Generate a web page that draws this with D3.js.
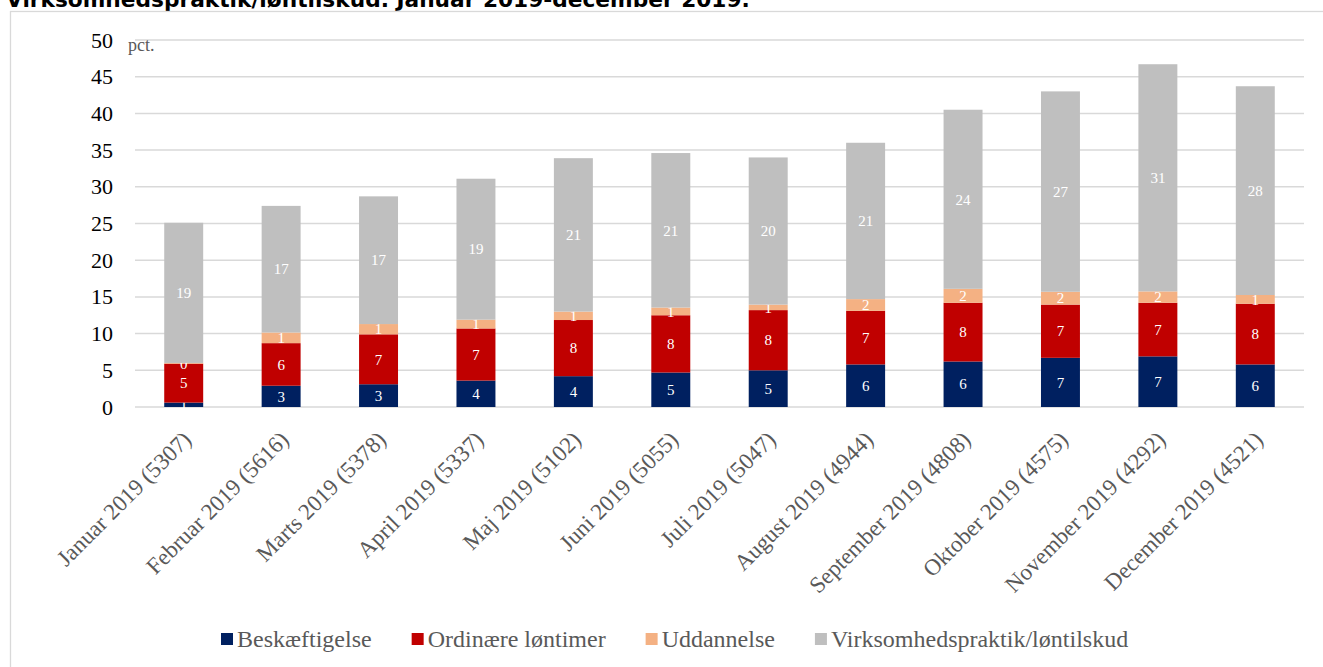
<!DOCTYPE html>
<html>
<head>
<meta charset="utf-8">
<script src="https://d3js.org/d3.v7.min.js"></script>
<style>
  body { margin: 0; background: #fff; }
  svg { display: block; }
</style>
</head>
<body>
<div id="chart-area"></div>
<script>
var months = ["Januar 2019 (5307)", "Februar 2019 (5616)", "Marts 2019 (5378)", "April 2019 (5337)",
  "Maj 2019 (5102)", "Juni 2019 (5055)", "Juli 2019 (5047)", "August 2019 (4944)",
  "September 2019 (4808)", "Oktober 2019 (4575)", "November 2019 (4292)", "December 2019 (4521)"];

var beskaeftigelse = [0.6, 2.9, 3.1, 3.6, 4.2, 4.7, 5.0, 5.8, 6.2, 6.7, 6.9, 5.8];
var ordinaere = [5.3, 5.8, 6.8, 7.1, 7.65, 7.8, 8.2, 7.3, 8.0, 7.25, 7.3, 8.27];
var uddannelse = [0.1, 1.45, 1.4, 1.2, 1.15, 1.05, 0.75, 1.6, 1.9, 1.75, 1.55, 1.19];
var virksomhed = [19.1, 17.25, 17.4, 19.2, 20.9, 21.05, 20.05, 21.3, 24.4, 27.3, 30.95, 28.44];

var seriesNames = ["Beskæftigelse", "Ordinære løntimer", "Uddannelse", "Virksomhedspraktik/løntilskud"];
var colors = ["#002060", "#C00000", "#F4B183", "#BFBFBF"];
var yTicks = [0, 5, 10, 15, 20, 25, 30, 35, 40, 45, 50];

var width = 1323, height = 667;

var svg = d3.select("#chart-area")
  .append("svg")
    .attr("width", width)
    .attr("height", height);

// title (cut off at the top like the original)
svg.append("text")
  .attr("x", 6)
  .attr("y", 7)
  .attr("font-family", "DejaVu Sans")
  .attr("font-weight", "bold")
  .attr("font-size", "21.7px")
  .attr("fill", "#000")
  .text("Virksomhedspraktik/løntilskud. Januar 2019-december 2019.");

// chart border
svg.append("rect")
  .attr("x", 10.5)
  .attr("y", 11.5)
  .attr("width", 1330)
  .attr("height", 700)
  .attr("fill", "#fff")
  .attr("stroke", "#d9d9d9")
  .attr("stroke-width", 1.3);

var data = months.map(function(m, i) {
  return {month: m, s0: beskaeftigelse[i], s1: ordinaere[i], s2: uddannelse[i], s3: virksomhed[i]};
});
var keys = ["s0", "s1", "s2", "s3"];
var stacked = d3.stack().keys(keys)(data);

var x = d3.scaleBand()
  .domain(months)
  .range([135, 1304])
  .paddingInner(0.6)
  .paddingOuter(0.3);

var y = d3.scaleLinear()
  .domain([0, 50])
  .range([407, 40]);

// gridlines
svg.append("g")
  .selectAll("line")
  .data(yTicks)
  .enter()
  .append("line")
    .attr("x1", 135)
    .attr("x2", 1304)
    .attr("y1", function(d) { return y(d); })
    .attr("y2", function(d) { return y(d); })
    .attr("stroke", "#d9d9d9")
    .attr("stroke-width", 1.5);

// y axis labels
var yAxis = svg.append("g")
  .attr("transform", "translate(118,0)")
  .call(d3.axisLeft(y).tickValues(yTicks).tickSize(0).tickPadding(5));
yAxis.select(".domain").remove();
yAxis.selectAll("text")
  .attr("font-family", "Liberation Serif")
  .attr("font-size", "22px")
  .attr("fill", "#000");

svg.append("text")
  .attr("x", 128)
  .attr("y", 51)
  .attr("font-family", "Liberation Serif")
  .attr("font-size", "18px")
  .attr("fill", "#595959")
  .text("pct.");

// bars
var layers = svg.append("g")
  .selectAll("g")
  .data(stacked)
  .enter()
  .append("g")
    .attr("fill", function(d, i) { return colors[i]; });

layers.selectAll("rect")
  .data(function(d) { return d; })
  .enter()
  .append("rect")
    .attr("x", function(d) { return x(d.data.month); })
    .attr("y", function(d) { return y(d[1]); })
    .attr("width", x.bandwidth())
    .attr("height", function(d) { return y(d[0]) - y(d[1]); });

layers.selectAll("text")
  .data(function(d) { return d; })
  .enter()
  .append("text")
    .attr("x", function(d) { return x(d.data.month) + x.bandwidth() / 2; })
    .attr("y", function(d) { return y((d[0] + d[1]) / 2); })
    .attr("dy", "0.35em")
    .attr("text-anchor", "middle")
    .attr("font-family", "Liberation Serif")
    .attr("font-size", "15px")
    .attr("fill", "#fff")
    .text(function(d) { return Math.round(d[1] - d[0]); });

// x axis labels, rotated
svg.append("g")
  .selectAll("text")
  .data(months)
  .enter()
  .append("text")
    .attr("transform", function(d) {
      return "translate(" + (x(d) + x.bandwidth() / 2 + 9) + ",441) rotate(-45)";
    })
    .attr("text-anchor", "end")
    .attr("font-family", "Liberation Serif")
    .attr("font-size", "23px")
    .attr("fill", "#595959")
    .text(function(d) { return d; });

// legend
var legend = svg.append("g");
var lx = 221;
seriesNames.forEach(function(name, i) {
  legend.append("rect")
    .attr("x", lx)
    .attr("y", 633)
    .attr("width", 12)
    .attr("height", 12)
    .attr("fill", colors[i]);
  var t = legend.append("text")
    .attr("x", lx + 16)
    .attr("y", 647)
    .attr("font-family", "Liberation Serif")
    .attr("font-size", "24px")
    .attr("fill", "#595959")
    .text(name);
  lx = lx + 16 + t.node().getComputedTextLength() + 40;
});
</script>
</body>
</html>
